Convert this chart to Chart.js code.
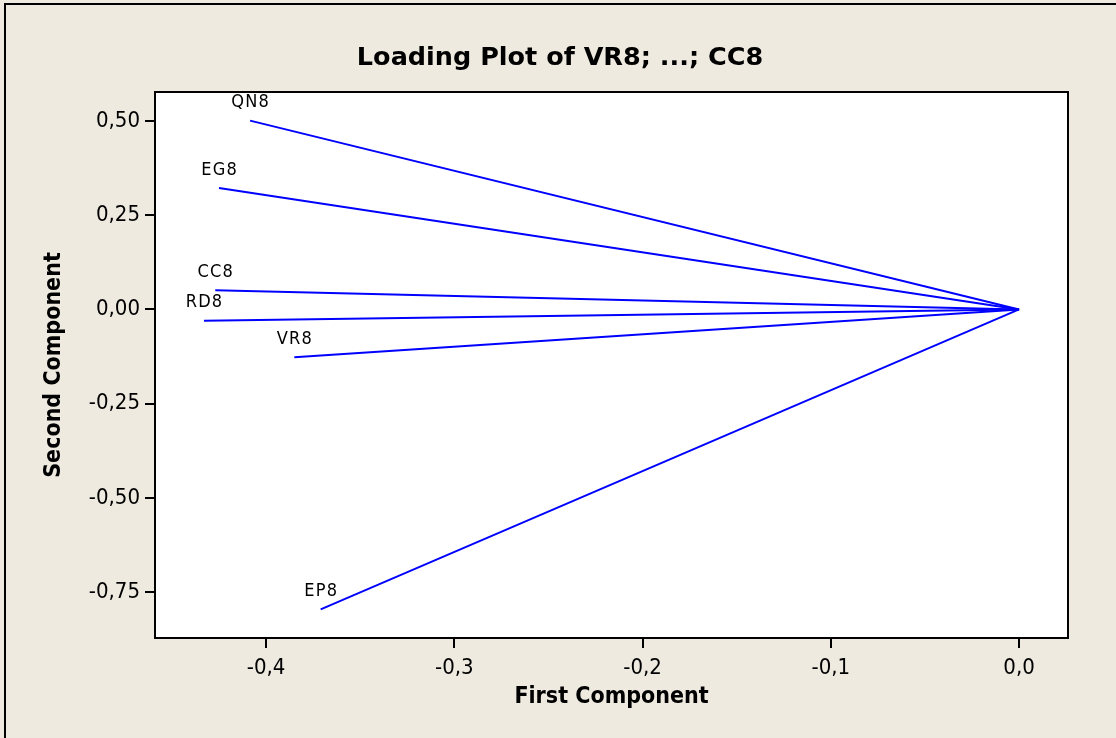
<!DOCTYPE html>
<html>
<head>
<meta charset="utf-8">
<script src="https://cdn.jsdelivr.net/npm/chart.js@4"></script>
<style>
  body { margin: 0; background: #EEEAE0; }
  canvas { display: block; }
</style>
</head>
<body>
<canvas id="loadingChart" width="1116" height="738"></canvas>
<script>
// loadings (first, second component)
const variables = ['QN8', 'EG8', 'CC8', 'RD8', 'VR8', 'EP8'];
const firstComp = [-0.4085, -0.425, -0.427, -0.433, -0.385, -0.371];
const secondComp = [0.501, 0.322, 0.051, -0.030, -0.127, -0.796];

const xTicks = [-0.4, -0.3, -0.2, -0.1, 0.0];
const xTickLabels = ['-0,4', '-0,3', '-0,2', '-0,1', '0,0'];
const yTicks = [-0.75, -0.5, -0.25, 0.0, 0.25, 0.5];
const yTickLabels = ['-0,75', '-0,50', '-0,25', '0,00', '0,25', '0,50'];

const bgColor = '#EEEAE0';
const lineColor = '#0000FF';
const fontFam = '"DejaVu Sans Condensed", "DejaVu Sans", sans-serif';

const datasets = variables.map((name, i) => ({
    label: name,
    data: [{ x: firstComp[i], y: secondComp[i] }, { x: 0, y: 0 }],
    showLine: true,
    borderColor: lineColor,
    borderWidth: 2,
    pointRadius: 0,
    fill: false
}));

// backgrounds, frame, title and endpoint labels
const decorations = {
    id: 'decorations',
    beforeDraw(chart) {
        const c = chart.ctx;
        const a = chart.chartArea;
        c.save();
        c.fillStyle = bgColor;
        c.fillRect(0, 0, chart.width, chart.height);
        c.fillStyle = '#FFFFFF';
        c.fillRect(a.left, a.top, a.right - a.left, a.bottom - a.top);
        // outer window edge
        c.strokeStyle = '#000';
        c.lineWidth = 2;
        c.beginPath();
        c.moveTo(5, chart.height);
        c.lineTo(5, 4);
        c.lineTo(chart.width, 4);
        c.stroke();
        // title
        c.fillStyle = '#000';
        c.font = 'bold 25.5px "DejaVu Sans"';
        c.textAlign = 'center';
        c.textBaseline = 'middle';
        c.fillText('Loading Plot of VR8; ...; CC8', 560, 58);
        c.restore();
    },
    afterDatasetsDraw(chart) {
        const c = chart.ctx;
        const a = chart.chartArea;
        const xs = chart.scales.x;
        const ys = chart.scales.y;
        c.save();
        c.fillStyle = '#000';
        c.font = '18px ' + fontFam;
        c.letterSpacing = '1.2px';
        c.textAlign = 'center';
        c.textBaseline = 'middle';
        variables.forEach((name, i) => {
            const px = xs.getPixelForValue(firstComp[i]);
            const py = ys.getPixelForValue(secondComp[i]);
            c.fillText(name, px + 0.6, py - 18);
        });
        c.letterSpacing = '0px';
        c.strokeStyle = '#000';
        c.lineWidth = 2;
        c.strokeRect(a.left, a.top, a.right - a.left, a.bottom - a.top);
        c.restore();
    }
};

const ctx = document.getElementById('loadingChart').getContext('2d');
const chart = new Chart(ctx, {
    type: 'scatter',
    data: { datasets: datasets },
    options: {
        responsive: false,
        animation: false,
        layout: { padding: { left: 0, right: 48, top: 92, bottom: 0 } },
        plugins: {
            legend: { display: false },
            title: { display: false },
            tooltip: { enabled: false }
        },
        scales: {
            x: {
                type: 'linear',
                min: -0.459,
                max: 0.026,
                afterBuildTicks: s => { s.ticks = xTicks.map(v => ({ value: v })); },
                afterFit: s => { s.height = 100; },
                ticks: {
                    autoSkip: false,
                    maxRotation: 0,
                    padding: 7,
                    color: '#000',
                    font: { family: fontFam, size: 22 },
                    callback: (v, i) => xTickLabels[i]
                },
                grid: { drawOnChartArea: false, drawTicks: true, tickLength: 10, color: '#000', lineWidth: 2 },
                border: { display: true, color: '#000', width: 2 },
                title: {
                    display: true,
                    text: 'First Component',
                    color: '#000',
                    font: { family: fontFam, size: 23, weight: 'bold' },
                    padding: { top: 0, bottom: 27 }
                }
            },
            y: {
                type: 'linear',
                min: -0.872,
                max: 0.577,
                afterBuildTicks: s => { s.ticks = yTicks.map(v => ({ value: v })); },
                afterFit: s => { s.width = 155; },
                ticks: {
                    autoSkip: false,
                    padding: 5,
                    color: '#000',
                    font: { family: fontFam, size: 22 },
                    callback: (v, i) => yTickLabels[i]
                },
                grid: { drawOnChartArea: false, drawTicks: true, tickLength: 10, color: '#000', lineWidth: 2 },
                border: { display: true, color: '#000', width: 2 },
                title: {
                    display: true,
                    text: 'Second Component',
                    color: '#000',
                    font: { family: fontFam, size: 23, weight: 'bold' },
                    padding: { top: 40, bottom: 0 }
                }
            }
        }
    },
    plugins: [decorations]
});
</script>
</body>
</html>
